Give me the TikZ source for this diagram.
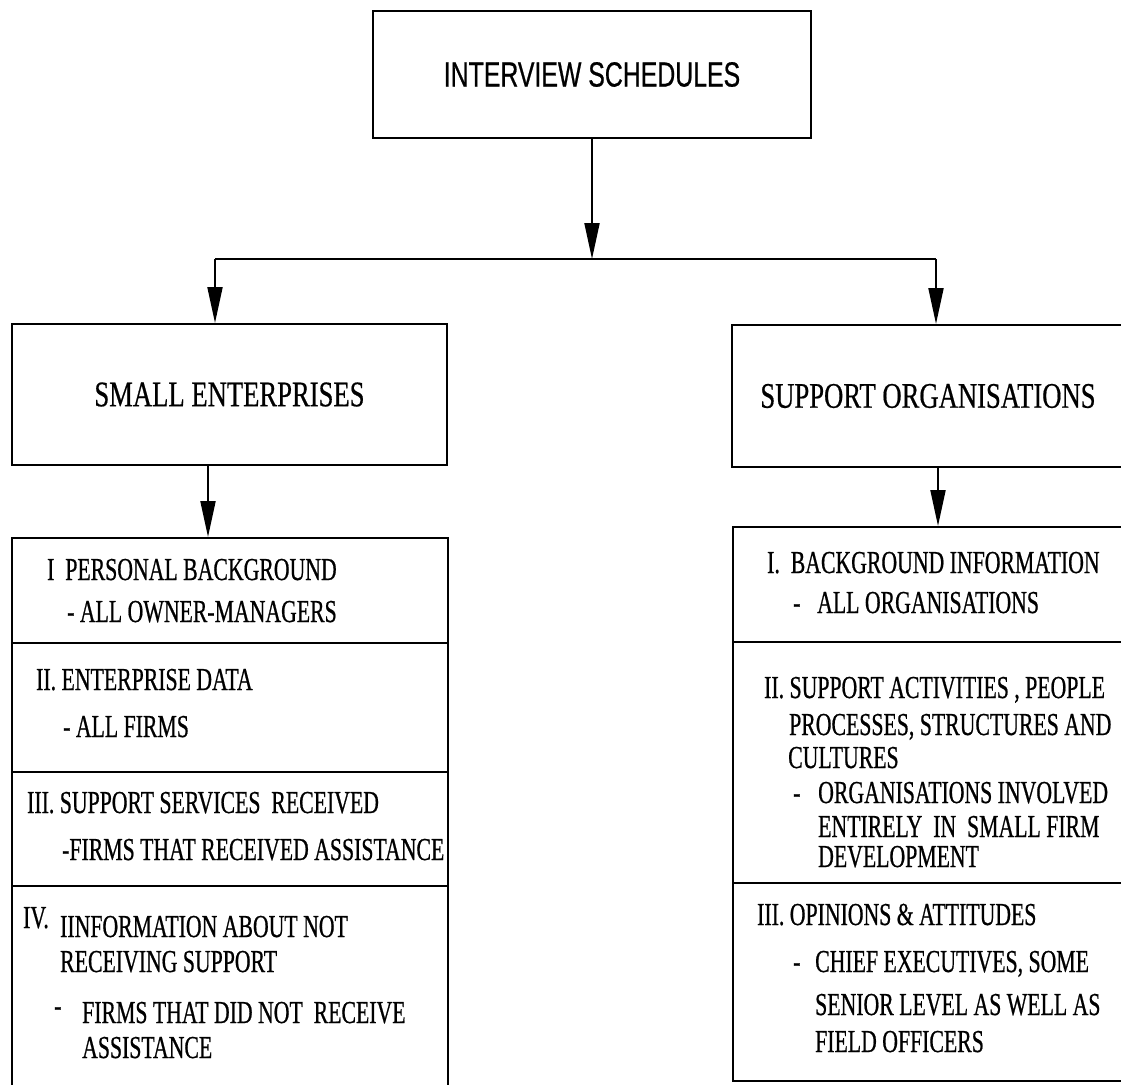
\documentclass[tikz,border=0pt]{standalone}
\usepackage{fontspec}
\usetikzlibrary{arrows.meta}
\newfontfamily\titlefont[FakeStretch=0.71,FakeBold=0.6]{Liberation Sans}
\newfontfamily\headfont[FakeStretch=0.74,FakeBold=0.5]{Liberation Serif}
\newfontfamily\listfont[FakeStretch=0.68,FakeBold=0.6]{Liberation Serif}
\begin{document}
\begin{tikzpicture}[x=1pt,y=-1pt,
  box/.style={draw, line width=2pt, inner sep=0pt, rectangle},
  ttl/.style={font=\titlefont\fontsize{35}{40}\selectfont},
  hd/.style={font=\headfont\fontsize{36}{42}\selectfont},
  ln/.style={anchor=base west, inner sep=0pt, font=\listfont\fontsize{32}{38}\selectfont},
  arr/.style={line width=2pt, -{Triangle[length=36pt,width=15pt]}},
  link/.style={line width=2pt}]
  \fill[white] (0,0) rectangle (1121,1084);
  \useasboundingbox (0,0) rectangle (1121,1084);

  % top level
  \node[box, ttl, minimum width=438pt, minimum height=127pt] (top) at (592,74.5) {INTERVIEW SCHEDULES};

  % second level
  \node[box, hd, minimum width=435pt, minimum height=141pt] (lh) at (229.5,394.5) {SMALL ENTERPRISES};
  \node[box, hd, minimum width=392pt, minimum height=142pt] (rh) at (928,396) {SUPPORT ORGANISATIONS};

  % left column compartments
  \node[box, minimum width=436pt, minimum height=105pt] (ll1) at (230,590.5) {};
  \node[box, minimum width=436pt, minimum height=129pt] (ll2) at (230,707.5) {};
  \node[box, minimum width=436pt, minimum height=114pt] (ll3) at (230,829) {};
  \node[box, minimum width=436pt, minimum height=206pt] (ll4) at (230,989) {};

  % right column compartments
  \node[box, minimum width=391pt, minimum height=115pt] (rl1) at (928.5,584.5) {};
  \node[box, minimum width=391pt, minimum height=241pt] (rl2) at (928.5,762.5) {};
  \node[box, minimum width=391pt, minimum height=198pt] (rl3) at (928.5,982) {};

  % connectors
  \coordinate (split) at (592,259);
  \coordinate (la) at (215,259);
  \coordinate (ra) at (936,259);
  \coordinate (lx) at (208,0);
  \coordinate (rx) at (938,0);
  \draw[arr] (top.south) -- (split);
  \draw[link] (la) -- (ra);
  \draw[arr] (la) -- (la |- lh.north);
  \draw[arr] (ra) -- (ra |- rh.north);
  \draw[arr] (lx |- lh.south) -- (lx |- ll1.north);
  \draw[arr] (rx |- rh.south) -- (rx |- rl1.north);

  % left column text
  \node[ln] (l1a) at (47,580) {I\ \ PERSONAL BACKGROUND};
  \node[ln] (l1b) at (67,622) {- ALL OWNER-MANAGERS};
  \node[ln] (l2a) at (36,690) {II. ENTERPRISE DATA};
  \node[ln] (l2b) at (63,737) {- ALL FIRMS};
  \node[ln] (l3a) at (27,813) {III. SUPPORT SERVICES\ \ RECEIVED};
  \node[ln] (l3b) at (62,860) {-FIRMS THAT RECEIVED ASSISTANCE};
  \node[ln] (l4n) at (23,928) {IV.};
  \node[ln] (l4a) at (60,937) {IINFORMATION ABOUT NOT};
  \node[ln] (l4b) at (60,972) {RECEIVING SUPPORT};
  \node[ln] (l4d) at (54,1016) {-};
  \node[ln] (l4c) at (82,1023) {FIRMS THAT DID NOT\ \ RECEIVE};
  \node[ln] (l4e) at (82,1058) {ASSISTANCE};

  % right column text
  \node[ln] (r1a) at (767,573) {I.\ \ BACKGROUND INFORMATION};
  \node[ln] (r1d) at (793,613) {-};
  \node[ln] (r1b) at (817,613) {ALL ORGANISATIONS};
  \node[ln] (r2a) at (764,698) {II. SUPPORT ACTIVITIES , PEOPLE};
  \node[ln] (r2b) at (789,735) {PROCESSES, STRUCTURES AND};
  \node[ln] (r2c) at (788,768) {CULTURES};
  \node[ln] (r2d) at (793,803) {-};
  \node[ln] (r2e) at (818,803) {ORGANISATIONS INVOLVED};
  \node[ln] (r2f) at (818,837) {ENTIRELY\ \ IN\ \ SMALL FIRM};
  \node[ln] (r2g) at (818,867) {DEVELOPMENT};
  \node[ln] (r3a) at (757,925) {III. OPINIONS \& ATTITUDES};
  \node[ln] (r3d) at (793,972) {-};
  \node[ln] (r3b) at (815,972) {CHIEF EXECUTIVES, SOME};
  \node[ln] (r3c) at (815,1015) {SENIOR LEVEL AS WELL AS};
  \node[ln] (r3e) at (815,1052) {FIELD OFFICERS};
\end{tikzpicture}
\end{document}
